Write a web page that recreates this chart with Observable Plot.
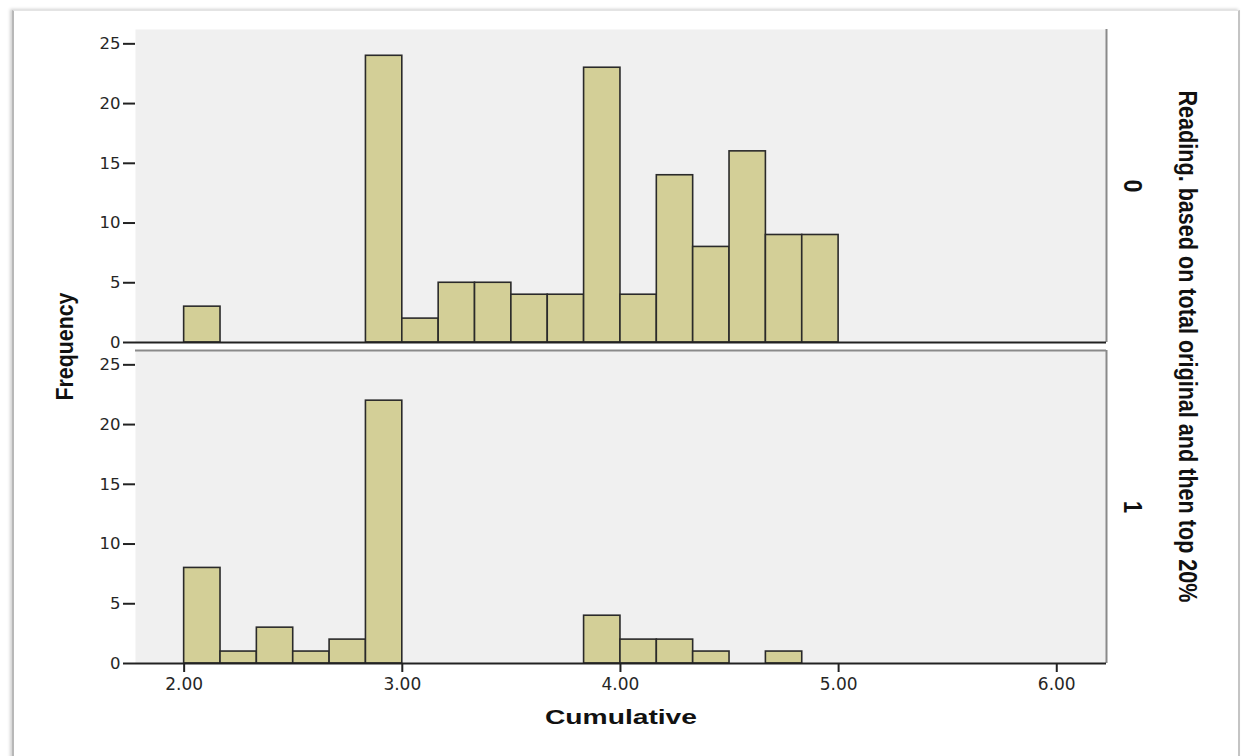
<!DOCTYPE html>
<html>
<head>
<meta charset="utf-8">
<script src="https://cdn.jsdelivr.net/npm/d3@7"></script>
<script src="https://cdn.jsdelivr.net/npm/@observablehq/plot@0.6"></script>
<style>
  body { margin: 0; background: #fff; }
  #wrap { position: relative; width: 1242px; height: 756px; overflow: hidden; background: #fff; }
  #card { position: absolute; left: 12px; top: 10px; width: 1224px; height: 800px; background: #fff;
          border-left: 2px solid #b8b8b8; border-top: 1px solid #e4e4e4; border-right: 2px solid #c4c4c4;
          box-shadow: -2px -1px 3px rgba(0,0,0,0.18); }
  #chart { position: absolute; left: 0; top: 0; }
</style>
</head>
<body>
<div id="wrap"><div id="card"></div><div id="chart"></div></div>
<script>
// Bin edges (width 1/6) and frequencies
const binLower = [2.0000, 2.1667, 2.3333, 2.5000, 2.6667, 2.8333, 3.0000, 3.1667, 3.3333, 3.5000, 3.6667, 3.8333, 4.0000, 4.1667, 4.3333, 4.5000, 4.6667, 4.8333];
const binUpper = [2.1667, 2.3333, 2.5000, 2.6667, 2.8333, 3.0000, 3.1667, 3.3333, 3.5000, 3.6667, 3.8333, 4.0000, 4.1667, 4.3333, 4.5000, 4.6667, 4.8333, 5.0000];
const countsGroup0 = [3, 0, 0, 0, 0, 24, 2, 5, 5, 4, 4, 23, 4, 14, 8, 16, 9, 9];
const countsGroup1 = [8, 1, 3, 1, 2, 22, 0, 0, 0, 0, 0, 4, 2, 2, 1, 0, 1, 0];
const groups = ["0", "1"];
const xTicks = [2, 3, 4, 5, 6];
const yTicks = [0, 5, 10, 15, 20, 25];
const xLabel = "Cumulative";
const yLabel = "Frequency";
const facetTitle = "Reading. based on total original and then top 20%";

const rows = [];
[countsGroup0, countsGroup1].forEach((counts, g) => {
  counts.forEach((c, i) => {
    if (c > 0) rows.push({group: groups[g], x1: binLower[i], x2: binUpper[i], count: c});
  });
});

const xDomain = [1.777, 6.228];
const yMax = 26.2;

const chart = Plot.plot({
  width: 1242,
  height: 740,
  marginTop: 29,
  marginBottom: 77,
  marginLeft: 135,
  marginRight: 136,
  style: {fontFamily: "'DejaVu Sans', sans-serif", background: "transparent", color: "#222", overflow: "visible"},
  x: {domain: xDomain},
  y: {domain: [0, yMax]},
  fy: {domain: groups, paddingInner: 0.025, paddingOuter: 0, axis: null},
  marks: [
    Plot.frame({fill: "#f0f0f0", stroke: null}),
    Plot.rectY(rows, {x1: "x1", x2: "x2", y: "count", fy: "group", fill: "#d3cf97", stroke: "#2a2a2a", strokeWidth: 1.6}),
    Plot.ruleX([xDomain[1]], {stroke: "#8a8a8a", strokeWidth: 2}),
    Plot.ruleY([{group: "1", top: yMax}], {y: "top", fy: "group", stroke: "#8a8a8a", strokeWidth: 2}),
    Plot.ruleY([0], {stroke: "#222", strokeWidth: 2}),
    Plot.axisY({ticks: yTicks, tickSize: 12, tickPadding: 3, line: true, label: null, fontSize: 16.5, strokeWidth: 2, fill: "#262626"}),
    Plot.axisX({ticks: xTicks, tickFormat: d3.format(".2f"), tickSize: 9, tickPadding: 5, label: null, fontSize: 17, strokeWidth: 2, fill: "#262626"}),
    Plot.text(groups, {fy: d => d, text: d => d, frameAnchor: "right", textAnchor: "middle", lineAnchor: "middle", dx: 25, rotate: 90, fontSize: 25, fontWeight: "bold", fontFamily: "'Liberation Sans', Arial, sans-serif", fill: "#111"}),
    Plot.text([facetTitle], {facet: "super", frameAnchor: "right", textAnchor: "middle", lineAnchor: "middle", dx: 81, rotate: 90, fontSize: 26, fontWeight: "bold", fontFamily: "'Liberation Sans', Arial, sans-serif", fill: "#111"}),
    Plot.text([yLabel], {facet: "super", frameAnchor: "left", textAnchor: "middle", lineAnchor: "middle", dx: -70, rotate: -90, fontSize: 23, fontWeight: "bold", fontFamily: "'Liberation Sans', Arial, sans-serif", fill: "#111"}),
    Plot.text([xLabel], {facet: "super", frameAnchor: "bottom", textAnchor: "middle", lineAnchor: "middle", dy: 54, fontSize: 20, fontWeight: "bold", fontFamily: "'Liberation Sans', Arial, sans-serif", fill: "#111"})
  ]
});

// condensed / stretched lettering as in the SPSS export
const lengths = new Map([[facetTitle, 512], [yLabel, 108], [xLabel, 152], ["0", 13], ["1", 12]]);
d3.select(chart).selectAll("text").each(function() {
  const t = this.textContent;
  const g = this.closest("g");
  const bold = this.getAttribute("font-weight") === "bold" || (g && g.getAttribute("font-weight") === "bold");
  if (lengths.has(t) && bold) {
    d3.select(this).attr("textLength", lengths.get(t)).attr("lengthAdjust", "spacingAndGlyphs");
  }
});

document.getElementById("chart").appendChild(chart);
</script>
</body>
</html>
